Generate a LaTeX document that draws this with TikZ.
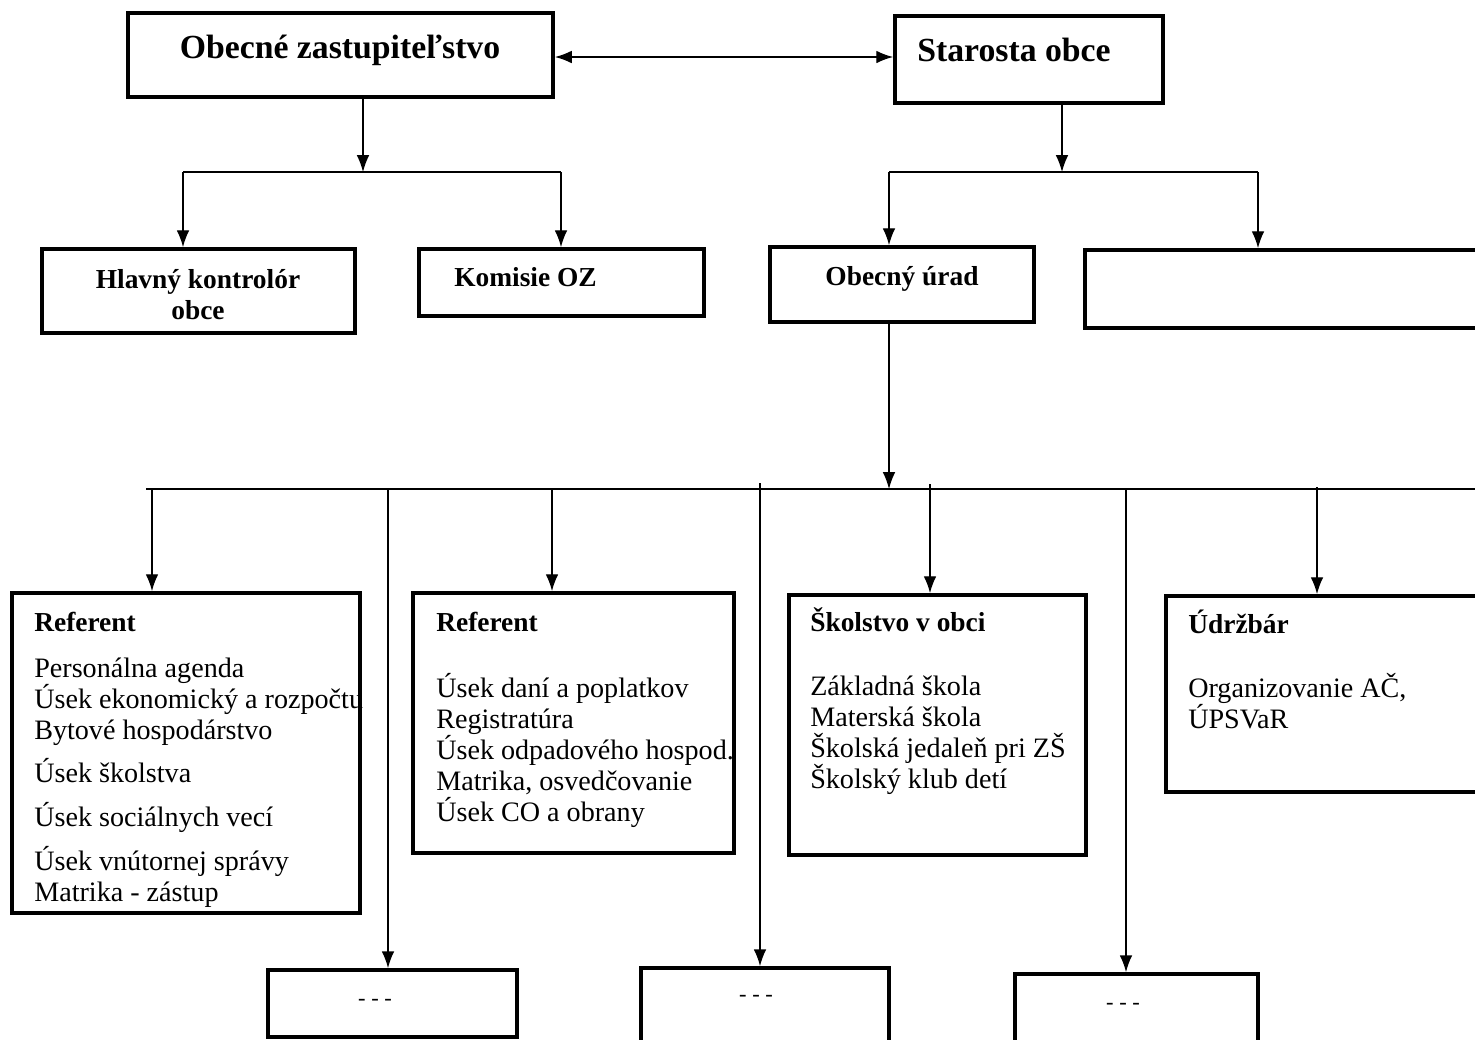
\documentclass[tikz,border=0pt]{standalone}
\usepackage{fontspec}
\setmainfont{Liberation Serif}
\usetikzlibrary{arrows.meta,calc}
\tikzset{
  box/.style={draw, rectangle, line width=2.6pt, inner sep=0pt},
  conn/.style={line width=1pt},
  arr/.style={conn, -{Latex[length=12pt,width=9pt]}},
  darr/.style={conn, {Latex[length=12pt,width=9pt]}-{Latex[length=12pt,width=9pt]}},
  head/.style={font=\fontsize{24}{28}\selectfont\bfseries, inner sep=0pt},
  sub/.style={font=\fontsize{19.5}{22}\selectfont\bfseries, inner sep=0pt},
  body/.style={font=\fontsize{20}{22}\selectfont, align=left, inner sep=0pt},
  dots/.style={font=\fontsize{16}{18}\selectfont, inner sep=0pt}
}

\begin{document}
\begin{tikzpicture}[x=0.025cm, y=-0.025cm]
    \useasboundingbox (0,0) rectangle (1475,1040);

    % top level
    \node[box, minimum width=10.625cm, minimum height=2.1cm] (oz) at (340.5,55) {};
    \node[box, minimum width=6.7cm, minimum height=2.175cm] (sta) at (1029,59.5) {};
    \node[head, anchor=base] (ozt) at (340,58) {Obecné zastupiteľstvo};
    \node[head, anchor=base west] (stat) at (917,61) {Starosta obce};

    % second level
    \node[box, minimum width=7.825cm, minimum height=2.1cm] (hk) at (198.5,291) {};
    \node[box, minimum width=7.125cm, minimum height=1.675cm] (ko) at (561.5,282.5) {};
    \node[box, minimum width=6.6cm, minimum height=1.875cm] (ur) at (902,284.5) {};
    \node[box, minimum width=10.375cm, minimum height=1.95cm] (em) at (1292.5,289) {};
    % multi-line nodes: base = last line
    \node[sub, align=center, anchor=base] (hkt) at (198,319) {Hlavný kontrolór\\obce};
    \node[sub, anchor=base west] (kot) at (454,286) {Komisie OZ};
    \node[sub, anchor=base] (urt) at (902,285) {Obecný úrad};

    % departments
    \node[box, minimum width=8.7cm, minimum height=8cm] (r1) at (186,753) {};
    \node[box, minimum width=8.025cm, minimum height=6.5cm] (r2) at (573.5,723) {};
    \node[box, minimum width=7.425cm, minimum height=6.5cm] (sk) at (937.5,725) {};
    \node[box, minimum width=8.35cm, minimum height=4.9cm] (ud) at (1333,694) {};

    \node[sub, anchor=base west] (r1h) at (34,631) {Referent};
    \node[body, anchor=base west] (r1t) at (34,901) {Personálna agenda\\Úsek ekonomický a rozpočtu\\Bytové hospodárstvo\\[9pt]Úsek školstva\\[9pt]Úsek sociálnych vecí\\[9pt]Úsek vnútornej správy\\Matrika - zástup};
    \node[sub, anchor=base west] (r2h) at (436,631) {Referent};
    \node[body, anchor=base west] (r2t) at (436,821) {Úsek daní a poplatkov\\Registratúra\\Úsek odpadového hospod.\\Matrika, osvedčovanie\\Úsek CO a obrany};
    \node[sub, anchor=base west] (skh) at (810,631) {Školstvo v obci};
    \node[body, anchor=base west] (skt) at (810,788) {Základná škola\\Materská škola\\Školská jedaleň pri ZŠ\\Školský klub detí};
    \node[sub, anchor=base west] (udh) at (1188,633) {Údržbár};
    \node[body, anchor=base west] (udt) at (1188,728) {Organizovanie AČ,\\ÚPSVaR};

    % bottom boxes
    \node[box, minimum width=6.225cm, minimum height=1.675cm] (b1) at (392.5,1003.5) {};
    \node[box, minimum width=6.2cm, minimum height=1.925cm] (b2) at (765,1006.5) {};
    \node[box, minimum width=6.075cm, minimum height=1.9cm] (b3) at (1136.5,1012) {};
    \node[dots] (b1t) at (375,1002) {- - -};
    \node[dots] (b2t) at (756,998) {- - -};
    \node[dots] (b3t) at (1123,1006) {- - -};

    % connectors
    \coordinate (hz) at (720,57);
    \coordinate (ozj) at (363,172);
    \coordinate (ozl) at (183,172);
    \coordinate (ozr) at (561,172);
    \coordinate (staj) at (1062,172);
    \coordinate (stal) at (889,172);
    \coordinate (star) at (1258,172);
    \coordinate (uj) at (889,489);
    \coordinate (bl) at (146,489);
    \coordinate (br) at (1475,489);
    \coordinate (d1) at (152,489);
    \coordinate (d2) at (388,489);
    \coordinate (d3) at (552,489);
    \coordinate (d4) at (760,483);
    \coordinate (d5) at (930,484);
    \coordinate (d6) at (1126,489);
    \coordinate (d7) at (1317,487);

    \draw[darr] (oz.east |- hz) -- (sta.west |- hz);
    \draw[arr] (oz.south -| ozj) -- (ozj);
    \draw[conn] (ozl) -- (ozr);
    \draw[arr] (ozl) -- (ozl |- hk.north);
    \draw[arr] (ozr) -- (ozr |- ko.north);
    \draw[arr] (sta.south -| staj) -- (staj);
    \draw[conn] (stal) -- (star);
    \draw[arr] (stal) -- (stal |- ur.north);
    \draw[arr] (star) -- (star |- em.north);
    \draw[arr] (ur.south -| uj) -- (uj);
    \draw[conn, line width=1.4pt] (bl) -- (br);
    \draw[arr] (d1) -- (d1 |- r1.north);
    \draw[arr] (d2) -- (d2 |- b1.north);
    \draw[arr] (d3) -- (d3 |- r2.north);
    \draw[arr] (d4) -- (d4 |- b2.north);
    \draw[arr] (d5) -- (d5 |- sk.north);
    \draw[arr] (d6) -- (d6 |- b3.north);
    \draw[arr] (d7) -- (d7 |- ud.north);
\end{tikzpicture}
\end{document}
